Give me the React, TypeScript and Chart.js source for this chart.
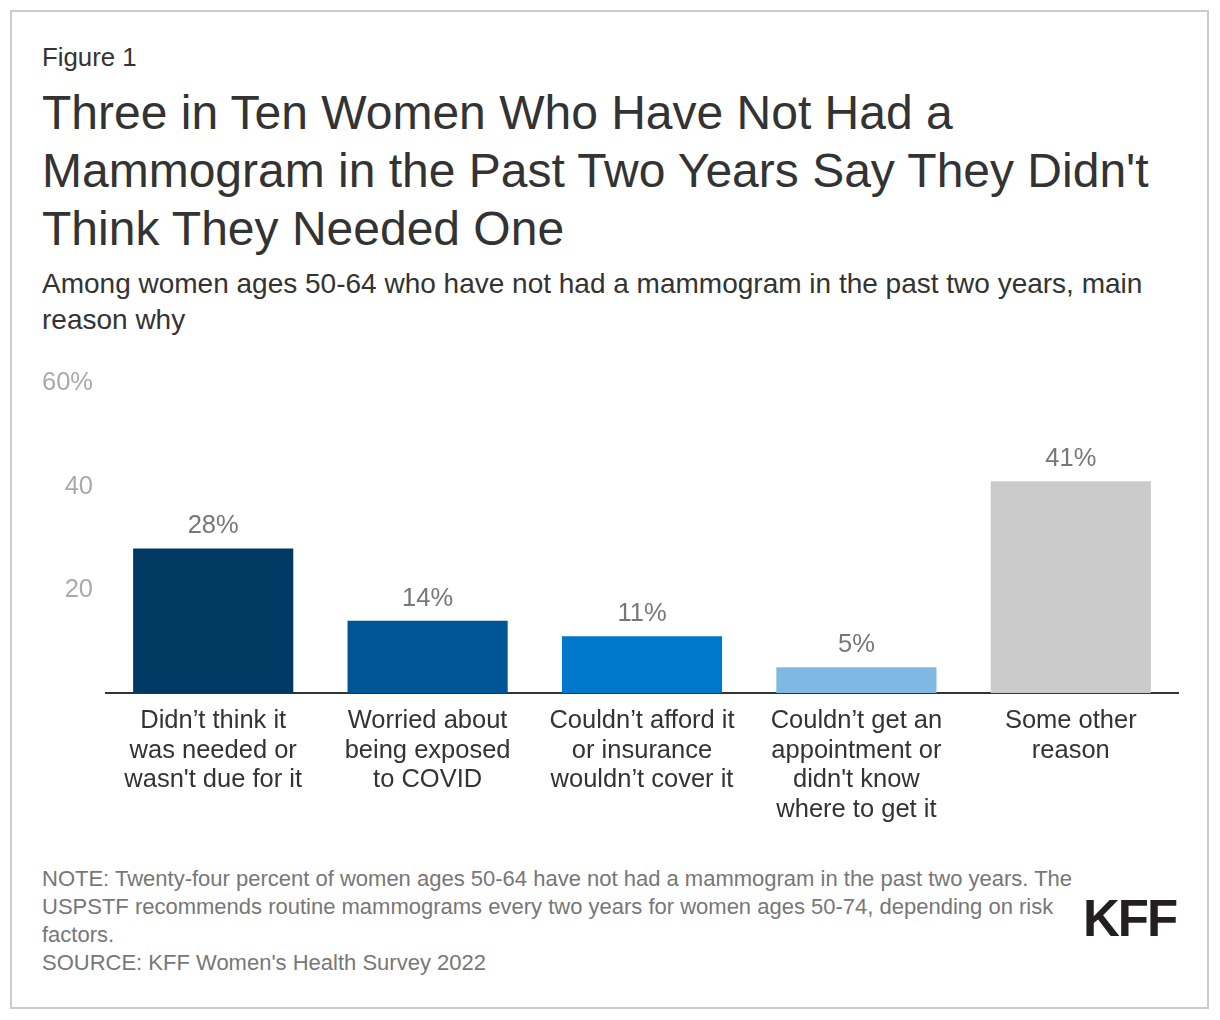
import React, { useEffect, useRef } from "react";
import { Chart, registerables } from "chart.js";

Chart.register(...registerables);

const categories: string[][] = [
  ["Didn’t think it", "was needed or", "wasn't due for it"],
  ["Worried about", "being exposed", "to COVID"],
  ["Couldn’t afford it", "or insurance", "wouldn’t cover it"],
  ["Couldn’t get an", "appointment or", "didn't know", "where to get it"],
  ["Some other", "reason"],
];
const values: number[] = [28, 14, 11, 5, 41];
const barColors: string[] = ["#003a63", "#005596", "#0077c8", "#7fb9e2", "#cbcbcb"];
const yTicks: number[] = [0, 20, 40, 60];

const FONT = "'Liberation Sans', Arial, Helvetica, sans-serif";

const valueLabels = {
  id: "valueLabels",
  afterDatasetsDraw(chart: any) {
    const ctx = chart.ctx;
    const meta = chart.getDatasetMeta(0);
    ctx.save();
    ctx.font = `25.5px ${FONT}`;
    ctx.fillStyle = "#777777";
    ctx.textAlign = "center";
    ctx.textBaseline = "alphabetic";
    meta.data.forEach((bar: any, i: number) => {
      ctx.fillText(`${values[i]}%`, bar.x, bar.y - 15);
    });
    ctx.restore();
  },
};

function BarChart() {
  const ref = useRef<HTMLCanvasElement>(null);
  useEffect(() => {
    if (!ref.current) return;
    const chart = new Chart(ref.current, {
      type: "bar",
      data: {
        labels: categories,
        datasets: [
          {
            data: values,
            backgroundColor: barColors,
            barPercentage: 0.747,
            categoryPercentage: 1,
          },
        ],
      },
      options: {
        animation: false,
        responsive: false,
        maintainAspectRatio: false,
        layout: { padding: { top: 17.5, right: 42, left: 0, bottom: 0 } },
        plugins: { legend: { display: false }, tooltip: { enabled: false } },
        scales: {
          x: {
            grid: { display: false, drawTicks: false },
            border: { display: true, color: "#333333", width: 2 },
            ticks: {
              color: "#333333",
              font: { family: FONT, size: 25.5, lineHeight: "29.7px" as any },
              padding: 13,
              maxRotation: 0,
              autoSkip: false,
            },
            afterFit(scale: any) {
              scale.height = 147;
            },
          },
          y: {
            min: 0,
            max: 60,
            afterBuildTicks(scale: any) {
              scale.ticks = yTicks.map((v) => ({ value: v }));
            },
            grid: { display: false, drawTicks: false },
            border: { display: false },
            ticks: {
              color: "#aaaaaa",
              font: { family: FONT, size: 25.5 },
              padding: 13,
              callback: (v: any) => (v === 0 ? "" : v === 60 ? "60%" : String(v)),
            },
            afterFit(scale: any) {
              scale.width = 106;
            },
          },
        },
      },
      plugins: [valueLabels],
    });
    return () => chart.destroy();
  }, []);
  return (
    <canvas
      ref={ref}
      width={1220}
      height={485}
      style={{ position: "absolute", left: 0, top: 355, width: 1220, height: 485 }}
    />
  );
}

export default function App() {
  const abs = (top: number, extra: React.CSSProperties = {}): React.CSSProperties => ({
    position: "absolute",
    left: 42,
    top,
    whiteSpace: "nowrap",
    margin: 0,
    ...extra,
  });
  return (
    <div
      style={{
        position: "absolute",
        left: 0,
        top: 0,
        width: 1220,
        height: 1020,
        background: "#ffffff",
        fontFamily: FONT,
        overflow: "hidden",
      }}
    >
      <div
        style={{
          position: "absolute",
          left: 10,
          top: 10,
          width: 1195,
          height: 995,
          border: "2px solid #cccccc",
        }}
      />
      <div style={abs(42, { fontSize: 25.8, lineHeight: "30px", color: "#333333" })}>Figure 1</div>
      <div style={abs(83.7, { fontSize: 48, lineHeight: "58px", color: "#333333" })}>
        Three in Ten Women Who Have Not Had a
        <br />
        Mammogram in the Past Two Years Say They Didn't
        <br />
        Think They Needed One
      </div>
      <div style={abs(266, { fontSize: 28, lineHeight: "36px", color: "#333333" })}>
        Among women ages 50-64 who have not had a mammogram in the past two years, main
        <br />
        reason why
      </div>
      <BarChart />
      <div style={abs(864.5, { fontSize: 22, lineHeight: "28.3px", color: "#777777" })}>
        NOTE: Twenty-four percent of women ages 50-64 have not had a mammogram in the past two years. The
        <br />
        USPSTF recommends routine mammograms every two years for women ages 50-74, depending on risk
        <br />
        factors.
        <br />
        SOURCE: KFF Women's Health Survey 2022
      </div>
      <div
        style={{
          position: "absolute",
          left: 1083,
          top: 892.5,
          fontSize: 51,
          lineHeight: "51px",
          fontWeight: 900,
          letterSpacing: "-2px",
          color: "#231f20",
          whiteSpace: "nowrap",
        }}
      >
        KFF
      </div>
    </div>
  );
}
